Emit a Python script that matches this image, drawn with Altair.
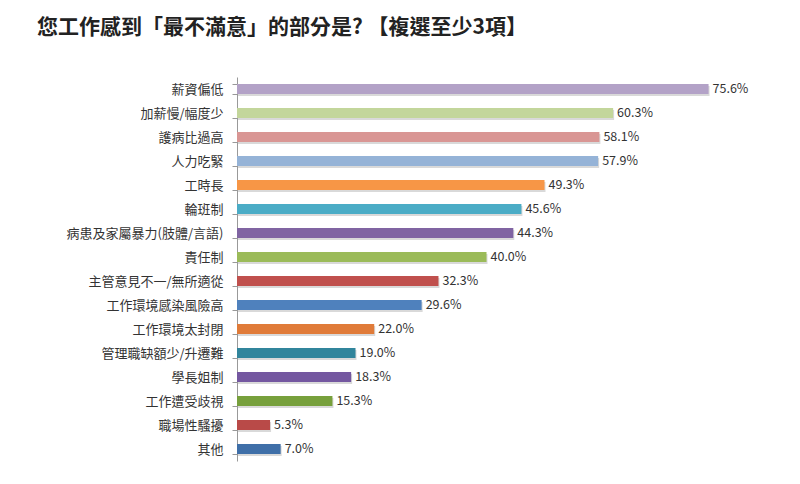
import altair as alt
import pandas as pd

categories = ["薪資偏低", "加薪慢/幅度少", "護病比過高", "人力吃緊", "工時長", "輪班制",
              "病患及家屬暴力(肢體/言語)", "責任制", "主管意見不一/無所適從", "工作環境感染風險高",
              "工作環境太封閉", "管理職缺額少/升遷難", "學長姐制", "工作遭受歧視", "職場性騷擾", "其他"]
values = [75.6, 60.3, 58.1, 57.9, 49.3, 45.6, 44.3, 40.0, 32.3, 29.6, 22.0, 19.0, 18.3, 15.3, 5.3, 7.0]
colors = ["#B3A2C7", "#C3D69B", "#D99694", "#95B3D7", "#F79646", "#4BACC6", "#8064A2", "#9BBB59",
          "#C0504D", "#4F81BD", "#E07B39", "#31859C", "#7457A0", "#77A03C", "#B94A48", "#3F6FA8"]

df = pd.DataFrame({"cat": categories, "val": values, "color": colors})

FONT = "Noto Sans CJK TC"

y_enc = alt.Y("cat:N", sort=categories,
              scale=alt.Scale(paddingInner=0.58, paddingOuter=0.29),
              axis=alt.Axis(title=None, tickBand="extent", tickSize=5, tickColor="#999999",
                            domainColor="#999999", labelFontSize=13, labelColor="#333333",
                            labelFont=FONT, labelPadding=9, labelLimit=300))
x_enc = alt.X("val:Q", scale=alt.Scale(domain=[0, 80]), axis=None)

base = alt.Chart(df)

shadow = base.mark_bar(color="#d9d9d9", yOffset=2, xOffset=1).encode(x=x_enc, y=y_enc)
bars = base.mark_bar().encode(x=x_enc, y=y_enc, color=alt.Color("color:N", scale=None))
labels = base.transform_calculate(
    lbl="format(datum.val, '.1f') + '%'"
).mark_text(align="left", baseline="middle", dx=4, fontSize=12.5, font=FONT, color="#333333").encode(
    x=x_enc, y=y_enc, text="lbl:N")

chart = (shadow + bars + labels).properties(
    width=499, height=384,
    title=alt.TitleParams("您工作感到「最不滿意」的部分是? 【複選至少3項】", anchor="start", frame="group",
                          align="left", dx=-200, offset=33, fontSize=21, font=FONT, fontWeight="bold",
                          color="#222222"),
    autosize=alt.AutoSizeParams(type="none"),
    padding={"left": 229, "top": 69, "right": 40, "bottom": 10},
).configure_view(stroke=None)

chart.save("out.html", embed_options={"renderer": "svg", "actions": False})
